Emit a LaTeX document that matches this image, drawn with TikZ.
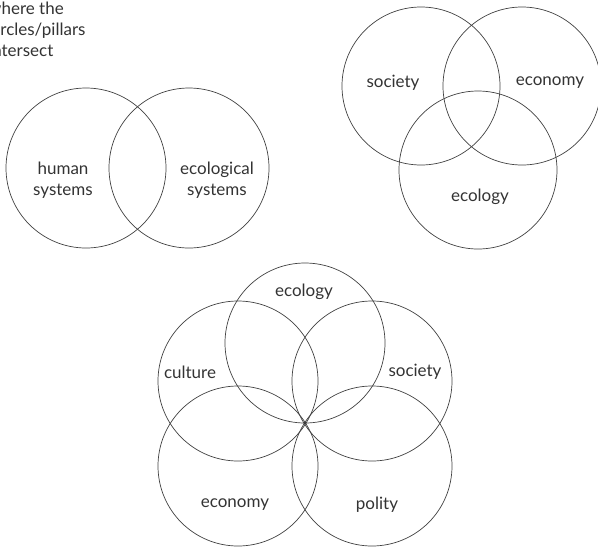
\documentclass[tikz,border=0pt]{standalone}
\usepackage{fontspec}
\setmainfont{Lato}
\usepackage{tikz}

\tikzset{
  pillar/.style={draw=black!75, line width=0.7pt},
  lbl/.style={text=black!80, font=\fontsize{17}{21}\selectfont, align=center}
}

\begin{document}
\begin{tikzpicture}[x=1pt,y=-1pt]
    \useasboundingbox (0,0) rectangle (598,550);

    % note in the corner, runs off the left edge
    \node[lbl, align=left, anchor=north west, inner sep=0pt] (note) at (-12,2) {where the\\circles/pillars\\intersect};

    % two circles
    \coordinate (HS) at (86,168);
    \coordinate (ES) at (189,168);
    \draw[pillar] (HS) circle (80pt);
    \draw[pillar] (ES) circle (80pt);
    \node[lbl] (hs) at (63,180) {human\\systems};
    \node[lbl] (es) at (217,180) {ecological\\systems};

    % three circles
    \coordinate (S3) at (421,86);
    \coordinate (N3) at (522,86);
    \coordinate (L3) at (478,170);
    \draw[pillar] (S3) circle (79pt);
    \draw[pillar] (N3) circle (79pt);
    \draw[pillar] (L3) circle (79pt);
    \node[lbl] (s3) at (393,83) {society};
    \node[lbl] (n3) at (550,83) {economy};
    \node[lbl] (l3) at (480,197) {ecology};

    % five circles through one point
    \coordinate (O) at (305,423);
    \coordinate (L5) at (305,343);
    \coordinate (C5) at (238,381);
    \coordinate (S5) at (372,381);
    \coordinate (N5) at (238,466);
    \coordinate (P5) at (372,466);
    \draw[pillar] (L5) circle (80pt);
    \draw[pillar] (C5) circle (80pt);
    \draw[pillar] (S5) circle (80pt);
    \draw[pillar] (N5) circle (80pt);
    \draw[pillar] (P5) circle (80pt);
    \fill[black!80] (O) circle (1.2pt);
    \node[lbl] (l5) at (304,292) {ecology};
    \node[lbl] (c5) at (190,372) {culture};
    \node[lbl] (s5) at (415,372) {society};
    \node[lbl] (n5) at (235,505) {economy};
    \node[lbl] (p5) at (377,505) {polity};
\end{tikzpicture}
\end{document}
